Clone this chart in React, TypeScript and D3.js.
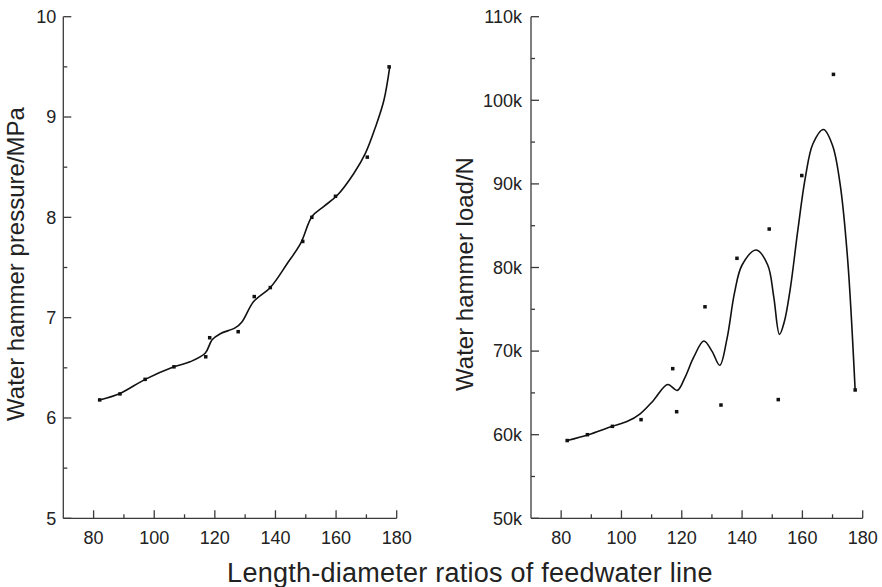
import React from "react";
import * as d3 from "d3";

// Length-diameter ratios (shared x for both panels)
const ratios = [82, 88.7, 97, 106.5, 117, 118.3, 127.7, 133, 138.3, 149, 152, 159.8, 170.3, 177.5];
// Left: water hammer pressure (MPa)
const pressure = [6.18, 6.24, 6.385, 6.51, 6.61, 6.8, 6.86, 7.21, 7.3, 7.76, 8.0, 8.21, 8.6, 9.5];
// Right: water hammer load (N)
const load = [59300, 60000, 61000, 61800, 67900, 62750, 75300, 63550, 81100, 84600, 64200, 91000, 103100, 65350];

// Fitted curve (left)
const pressureFitX = [82, 88.7, 97, 106.5, 111.8, 116.8, 119.1, 121.8, 126.8, 129, 132.8, 138.3, 143.9, 148.3, 152.1, 156, 160.4, 165.9, 169.7, 173, 175.8, 177.7];
const pressureFitY = [6.18, 6.245, 6.385, 6.51, 6.56, 6.645, 6.78, 6.84, 6.9, 6.96, 7.16, 7.3, 7.54, 7.74, 8.01, 8.11, 8.22, 8.44, 8.64, 8.9, 9.17, 9.5];

// Fitted curve (right)
const loadFitX = [82, 89, 96.5, 102, 106.2, 110.6, 115.3, 118.5, 121, 124, 127.3, 130, 132.6, 135, 137.5, 140, 144.7, 148.5, 150.5, 152.4, 154, 156, 158.5, 161, 163.5, 167, 170, 172.5, 175, 177.5];
const loadFitY = [59300, 60000, 60950, 61600, 62500, 64100, 66000, 65300, 66800, 69300, 71200, 70000, 68300, 71500, 77000, 80300, 82100, 80300, 76500, 72000, 73500, 77500, 84500, 90800, 94800, 96500, 94600, 90000, 81000, 65300];

const xTicks = [80, 100, 120, 140, 160, 180];
const xMinor = [90, 110, 130, 150, 170];
const leftYTicks = [5, 6, 7, 8, 9, 10];
const leftYMinor = [5.5, 6.5, 7.5, 8.5, 9.5];
const rightYTicks = [50000, 60000, 70000, 80000, 90000, 100000, 110000];
const rightYMinor = [55000, 65000, 75000, 85000, 95000, 105000];

const FONT = "'Liberation Sans', Arial, Helvetica, sans-serif";
const AXIS = "#3a3a3a";

type PanelProps = {
  x0: number;
  x1: number;
  y0: number;
  y1: number;
  yDomain: [number, number];
  yTicks: number[];
  yMinor: number[];
  yFmt: (v: number) => string;
  px: number[];
  py: number[];
  fx: number[];
  fy: number[];
  title: string;
  titleX: number;
  titleY: number;
  labelGap: number;
};

function Panel(p: PanelProps) {
  const x = d3.scaleLinear().domain([70, 180]).range([p.x0, p.x1]);
  const y = d3.scaleLinear().domain(p.yDomain).range([p.y1, p.y0]);
  const line = d3
    .line<number>()
    .x((_, i) => x(p.fx[i]))
    .y((d) => y(d))
    .curve(d3.curveCatmullRom.alpha(0.5));
  const major = 8;
  const minor = 4;
  return (
    <g>
      <line x1={p.x0} x2={p.x0} y1={p.y0} y2={p.y1} stroke={AXIS} strokeWidth={1.3} />
      <line x1={p.x0} x2={p.x1} y1={p.y1} y2={p.y1} stroke={AXIS} strokeWidth={1.3} />
      {xTicks.map((t) => (
        <g key={"xt" + t}>
          <line x1={x(t)} x2={x(t)} y1={p.y1} y2={p.y1 - major} stroke={AXIS} strokeWidth={1.3} />
          <text x={x(t)} y={p.y1 + 26} textAnchor="middle" fontSize={18} fontFamily={FONT} fill="#222">
            {t}
          </text>
        </g>
      ))}
      {xMinor.map((t) => (
        <line key={"xm" + t} x1={x(t)} x2={x(t)} y1={p.y1} y2={p.y1 - minor} stroke={AXIS} strokeWidth={1.3} />
      ))}
      {p.yTicks.map((t) => (
        <g key={"yt" + t}>
          <line x1={p.x0} x2={p.x0 + major} y1={y(t)} y2={y(t)} stroke={AXIS} strokeWidth={1.3} />
          <text
            x={p.x0 - p.labelGap}
            y={y(t)}
            dy="0.35em"
            textAnchor="end"
            fontSize={18}
            fontFamily={FONT}
            fill="#222"
          >
            {p.yFmt(t)}
          </text>
        </g>
      ))}
      {p.yMinor.map((t) => (
        <line key={"ym" + t} x1={p.x0} x2={p.x0 + minor} y1={y(t)} y2={y(t)} stroke={AXIS} strokeWidth={1.3} />
      ))}
      <text
        transform={`translate(${p.titleX},${p.titleY}) rotate(-90)`}
        textAnchor="middle"
        fontSize={24}
        fontFamily={FONT}
        fill="#222"
      >
        {p.title}
      </text>
      <path d={line(p.fy) || ""} fill="none" stroke="#111" strokeWidth={1.6} />
      {p.px.map((v, i) => (
        <rect key={"p" + i} x={x(v) - 1.75} y={y(p.py[i]) - 1.75} width={3.5} height={3.5} fill="#111" />
      ))}
    </g>
  );
}

export default function App() {
  return (
    <svg
      width={882}
      height={587}
      viewBox="0 0 882 587"
      style={{ position: "absolute", left: 0, top: 0, background: "#fff" }}
    >
      <rect width={882} height={587} fill="#fff" />
      <Panel
        x0={63.3}
        x1={396.7}
        y0={16.7}
        y1={518.3}
        yDomain={[5, 10]}
        yTicks={leftYTicks}
        yMinor={leftYMinor}
        yFmt={(v) => String(v)}
        px={ratios}
        py={pressure}
        fx={pressureFitX}
        fy={pressureFitY}
        title="Water hammer pressure/MPa"
        titleX={24}
        titleY={264}
        labelGap={7}
      />
      <Panel
        x0={531}
        x1={862.7}
        y0={16.7}
        y1={518.3}
        yDomain={[50000, 110000]}
        yTicks={rightYTicks}
        yMinor={rightYMinor}
        yFmt={(v) => v / 1000 + "k"}
        px={ratios}
        py={load}
        fx={loadFitX}
        fy={loadFitY}
        title="Water hammer load/N"
        titleX={473}
        titleY={274}
        labelGap={9}
      />
      <text
        x={470}
        y={582}
        textAnchor="middle"
        fontSize={27}
        letterSpacing={0.25}
        fontFamily={FONT}
        fill="#222"
      >
        Length-diameter ratios of feedwater line
      </text>
    </svg>
  );
}
